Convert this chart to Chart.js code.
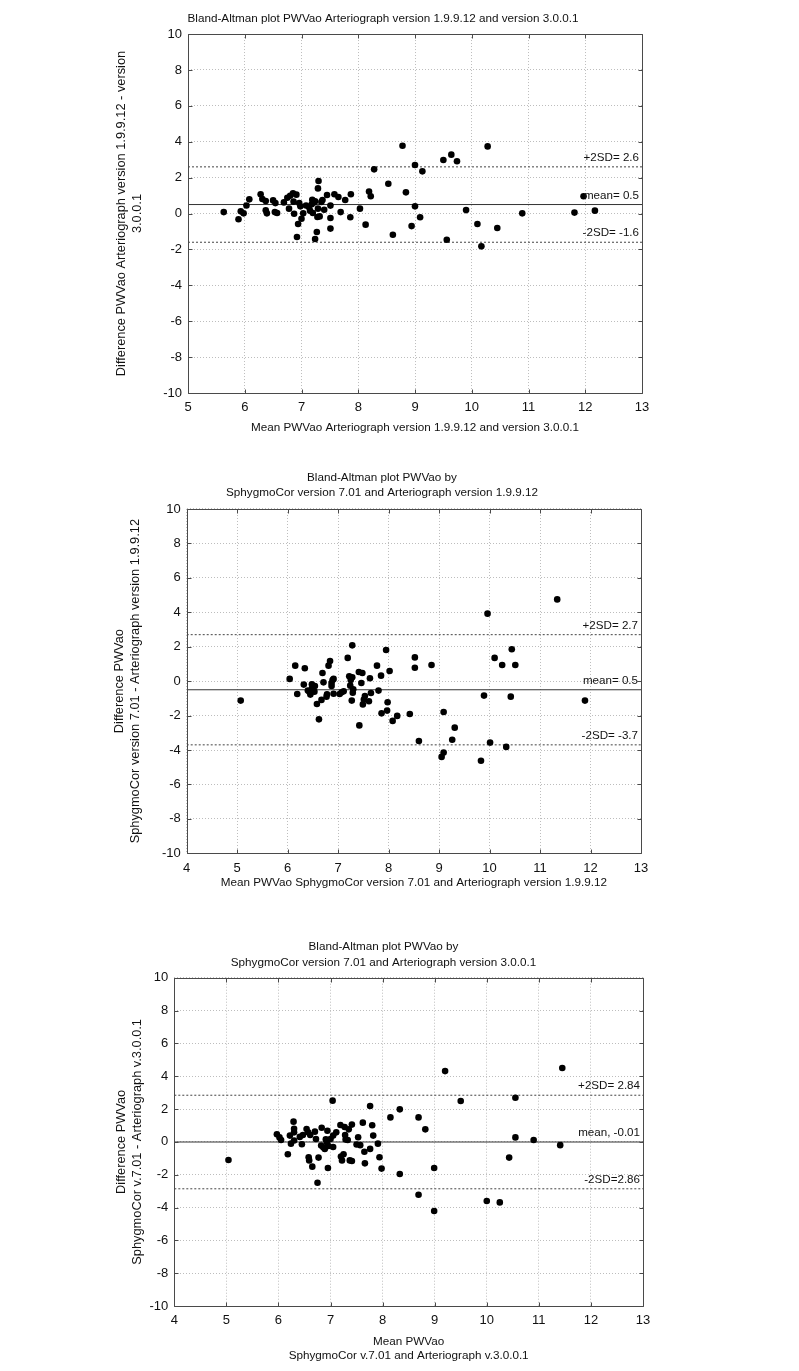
<!DOCTYPE html>
<html><head><meta charset="utf-8">
<script src="https://cdn.jsdelivr.net/npm/chart.js@4.4.1/dist/chart.umd.min.js"></script>
<style>
html,body{margin:0;padding:0;background:#fff;}
body{width:799px;height:1371px;position:relative;overflow:hidden;}
canvas{position:absolute;left:0;}
</style></head><body>
<canvas id="c1" width="766" height="445" style="top:0px"></canvas>
<canvas id="c2" width="764" height="455" style="top:445px"></canvas>
<canvas id="c3" width="767" height="471" style="top:900px"></canvas>
<script>
// ---------- Data ----------
const mean1 = [5.63,5.89,5.93,5.98,6.03,6.08,6.28,6.31,6.37,6.37,6.39,6.50,6.53,6.54,6.57,6.69,6.75,6.78,6.80,6.85,6.86,6.87,6.91,6.94,6.92,6.96,6.98,7.00,7.03,7.08,7.13,7.15,7.18,7.19,7.20,7.22,7.24,7.24,7.27,7.28,7.29,7.30,7.29,7.32,7.35,7.37,7.40,7.45,7.51,7.51,7.51,7.58,7.65,7.69,7.77,7.86,7.87,8.03,8.13,8.19,8.22,8.28,8.53,8.61,8.78,8.84,8.94,9.00,9.00,9.09,9.13,9.50,9.56,9.64,9.74,9.90,10.10,10.17,10.28,10.45,10.89,11.81,11.97,12.17];
const diff1 = [0.08,-0.32,0.12,0.01,0.45,0.79,1.07,0.81,0.70,0.18,0.01,0.73,0.08,0.58,0.03,0.62,0.88,0.27,0.99,1.12,0.66,-0.01,1.05,-0.58,-1.31,0.58,0.40,-0.29,0.01,0.45,0.36,0.16,0.51,0.77,0.03,0.62,-1.42,0.68,-1.03,-0.19,1.40,1.81,0.27,-0.16,0.64,0.75,0.21,1.03,0.44,-0.25,-0.84,1.07,0.92,0.08,0.75,-0.21,1.07,0.27,-0.62,1.22,0.96,2.46,1.66,-1.18,3.78,1.18,-0.70,2.70,0.40,-0.21,2.35,2.98,-1.46,3.28,2.91,0.19,-0.58,-1.83,3.74,-0.81,0.01,0.05,0.96,0.16];

const mean2 = [5.07,6.04,6.15,6.19,6.32,6.34,6.40,6.43,6.45,6.48,6.48,6.50,6.53,6.54,6.58,6.62,6.67,6.69,6.71,6.77,6.78,6.81,6.84,6.87,6.87,6.89,6.91,6.91,7.03,7.07,7.11,7.19,7.22,7.24,7.25,7.27,7.28,7.28,7.29,7.30,7.41,7.42,7.46,7.48,7.49,7.51,7.53,7.61,7.63,7.65,7.77,7.80,7.85,7.86,7.95,7.97,7.98,8.02,8.08,8.17,8.42,8.52,8.52,8.60,8.85,9.05,9.09,9.09,9.26,9.31,9.83,9.89,9.96,10.01,10.10,10.25,10.33,10.42,10.44,10.51,11.34,11.89];
const diff2 = [-1.13,0.13,0.90,-0.75,-0.20,0.75,-0.55,-0.61,-0.78,-0.42,-0.18,-0.32,-0.61,-0.28,-1.33,-2.22,-1.09,0.47,-0.07,-0.90,-0.76,0.90,1.17,-0.28,-0.11,0.07,-0.73,0.13,-0.75,-0.65,-0.59,1.35,0.28,-0.26,0.07,-1.13,2.08,0.22,-0.67,-0.47,0.53,-2.57,-0.11,0.47,-1.35,-1.07,-0.86,-1.17,0.17,-0.69,0.90,-0.55,0.32,-1.87,1.81,-1.71,-1.23,0.59,-2.31,-2.02,-1.91,1.38,0.78,-3.48,0.94,-4.40,-4.15,-1.79,-3.40,-2.70,-4.62,-0.84,3.92,-3.57,1.35,0.94,-3.82,-0.90,1.85,0.94,4.75,-1.13];

const mean3 = [5.04,5.97,6.02,6.05,6.18,6.22,6.24,6.29,6.30,6.30,6.30,6.41,6.45,6.47,6.54,6.57,6.58,6.59,6.61,6.65,6.70,6.72,6.75,6.77,6.83,6.82,6.86,6.89,6.91,6.93,6.94,6.95,6.96,7.00,7.04,7.05,7.05,7.11,7.19,7.20,7.22,7.25,7.27,7.28,7.29,7.33,7.35,7.37,7.41,7.41,7.50,7.53,7.57,7.62,7.65,7.66,7.76,7.76,7.80,7.82,7.91,7.94,7.98,8.15,8.33,8.33,8.69,8.69,8.82,8.99,8.99,9.20,9.50,10.00,10.25,10.43,10.55,10.55,10.90,11.41,11.45];
const diff3 = [-1.11,0.46,0.27,0.11,-0.76,0.38,-0.11,1.23,0.80,0.58,0.08,0.30,-0.15,0.42,0.78,0.58,-0.94,-1.13,0.42,-1.51,0.62,0.17,-2.49,-0.96,0.86,-0.23,-0.33,-0.44,0.15,-0.03,0.68,-1.59,-0.25,0.17,2.51,-0.31,0.38,0.58,1.03,-0.90,-1.13,-0.76,0.90,0.42,0.15,0.11,0.76,-1.13,1.05,-1.17,-0.16,0.28,-0.20,1.17,-0.60,-1.31,-0.43,2.18,1.01,0.38,-0.11,-0.94,-1.63,1.49,1.98,-1.96,1.49,-3.22,0.76,-1.59,-4.21,4.31,2.49,-3.60,-3.69,-0.96,2.69,0.27,0.11,-0.20,4.50];

// limit lines: [+2SD, mean, -2SD]
const limits1 = [2.6, 0.5, -1.6];
const limitLabels1 = ["+2SD= 2.6", "mean= 0.5", "-2SD= -1.6"];
const limits2 = [2.7, -0.5, -3.7];
const limitLabels2 = ["+2SD= 2.7", "mean= 0.5", "-2SD= -3.7"];
const limits3 = [2.84, -0.01, -2.86];
const limitLabels3 = ["+2SD= 2.84", "mean, -0.01", "-2SD=2.86"];

const xRange1 = [5, 13];
const xRange2 = [4, 13];
const xRange3 = [4, 13];
const yRange = [-10, 10];

const title1 = "Bland-Altman plot PWVao Arteriograph version 1.9.9.12 and version 3.0.0.1";
const title2 = ["Bland-Altman plot PWVao by", "SphygmoCor version 7.01 and Arteriograph version 1.9.9.12"];
const title3 = ["Bland-Altman plot PWVao by", "SphygmoCor version 7.01 and Arteriograph version 3.0.0.1"];
const xTitle1 = "Mean PWVao Arteriograph version 1.9.9.12 and version 3.0.0.1";
const xTitle2 = "Mean PWVao SphygmoCor version 7.01 and Arteriograph version 1.9.9.12";
const xTitle3 = ["Mean PWVao", "SphygmoCor v.7.01 and Arteriograph v.3.0.0.1"];
const yTitle1 = ["Difference PWVao Arteriograph version 1.9.9.12 - version", "3.0.0.1"];
const yTitle2 = ["Difference PWVao", "SphygmoCor version 7.01 - Arteriograph version 1.9.9.12"];
const yTitle3 = ["Difference PWVao", "SphygmoCor v.7.01 - Arteriograph v.3.0.0.1"];

// ---------- Rendering ----------
Chart.defaults.font.family = "'Liberation Sans', Arial, sans-serif";
Chart.defaults.color = '#111';

const framePlugin = {
  id: 'frame',
  afterDraw(chart) {
    const {ctx, chartArea: a, scales} = chart;
    ctx.save();
    ctx.strokeStyle = '#4a4a4a';
    ctx.lineWidth = 1;
    ctx.setLineDash([]);
    ctx.beginPath();
    const L = Math.round(a.left) + 0.5, R = Math.round(a.right) + 0.5;
    const T = Math.round(a.top) + 0.5, B = Math.round(a.bottom) + 0.5;
    ctx.rect(L, T, R - L, B - T);
    const tl = 4;
    scales.x.ticks.forEach(t => {
      const px = Math.round(scales.x.getPixelForValue(t.value)) + 0.5;
      ctx.moveTo(px, T); ctx.lineTo(px, T + tl);
      ctx.moveTo(px, B); ctx.lineTo(px, B - tl);
    });
    scales.y.ticks.forEach(t => {
      const py = Math.round(scales.y.getPixelForValue(t.value)) + 0.5;
      ctx.moveTo(L, py); ctx.lineTo(L + tl, py);
      ctx.moveTo(R, py); ctx.lineTo(R - tl, py);
    });
    ctx.stroke();
    // limit line labels
    const labels = chart.options.plugins.frame.labels;
    const vals = chart.options.plugins.frame.values;
    ctx.fillStyle = '#111';
    ctx.font = "11.6px 'Liberation Sans', Arial, sans-serif";
    ctx.textAlign = 'right';
    ctx.textBaseline = 'alphabetic';
    labels.forEach((txt, i) => {
      const py = scales.y.getPixelForValue(vals[i]);
      ctx.fillText(txt, a.right - 3, py - 6);
    });
    ctx.restore();
  }
};

function makeChart(id, g) {
  const pts = g.xs.map((x, i) => ({x: x, y: g.ys[i]}));
  const lineDs = g.limits.map((v, i) => ({
    type: 'line',
    data: [{x: g.xr[0], y: v}, {x: g.xr[1], y: v}],
    borderColor: i === 1 ? '#333' : '#444',
    borderWidth: 1,
    borderDash: i === 1 ? [] : [2, 2],
    pointRadius: 0,
    fill: false
  }));
  return new Chart(document.getElementById(id), {
    type: 'scatter',
    data: {
      datasets: [{
        data: pts,
        backgroundColor: '#000',
        borderColor: '#000',
        borderWidth: 0,
        pointRadius: 3.3,
        pointHoverRadius: 3.3
      }].concat(lineDs)
    },
    options: {
      responsive: false,
      animation: false,
      events: [],
      layout: {padding: 0},
      plugins: {
        legend: {display: false},
        tooltip: {enabled: false},
        title: {
          display: true,
          text: g.title,
          color: '#111',
          font: {size: 11.7, weight: 'normal', lineHeight: g.tLH},
          padding: {top: g.tPT, bottom: g.tPB}
        },
        frame: {labels: g.labels, values: g.limits}
      },
      scales: {
        x: {
          type: 'linear', position: 'bottom',
          min: g.xr[0], max: g.xr[1],
          ticks: {stepSize: 1, padding: 7, color: '#111', font: {size: 13}, maxRotation: 0},
          grid: {color: '#bdbdbd', drawTicks: false, lineWidth: 1},
          border: {display: false, dash: [1, 2]},
          title: {display: true, text: g.xTitle, color: '#111',
                  font: {size: 11.7, lineHeight: g.xLH}, padding: {top: 0, bottom: g.xPB}},
          afterFit(s) { s.height = g.xH; }
        },
        y: {
          type: 'linear', position: 'left',
          min: yRange[0], max: yRange[1],
          ticks: {stepSize: 2, padding: 6, color: '#111', font: {size: 13}},
          grid: {color: '#bdbdbd', drawTicks: false, lineWidth: 1},
          border: {display: false, dash: [1, 2]},
          title: {display: true, text: g.yTitle, color: '#111',
                  font: {size: 12.8, lineHeight: 1.25}, padding: {top: g.yPT, bottom: 0}},
          afterFit(s) { s.width = g.yW; }
        },
        y2: {
          type: 'linear', position: 'right', display: true,
          min: 0, max: 1,
          ticks: {display: false},
          grid: {display: false, drawTicks: false},
          border: {display: false},
          afterFit(s) { s.width = g.rW; }
        }
      }
    },
    plugins: [framePlugin]
  });
}

makeChart('c1', {
  xs: mean1, ys: diff1, xr: xRange1, limits: limits1, labels: limitLabels1,
  title: title1, tLH: 1.2, tPT: 12, tPB: 8,
  xTitle: xTitle1, xLH: 1.2, xPB: 10, xH: 52,
  yTitle: yTitle1, yPT: 113, yW: 188, rW: 124
});
makeChart('c2', {
  xs: mean2, ys: diff2, xr: xRange2, limits: limits2, labels: limitLabels2,
  title: title2, tLH: 1.282, tPT: 25.5, tPB: 8.5,
  xTitle: xTitle2, xLH: 1.2, xPB: 10, xH: 46.7,
  yTitle: yTitle2, yPT: 111, yW: 186.7, rW: 123
});
makeChart('c3', {
  xs: mean3, ys: diff3, xr: xRange3, limits: limits3, labels: limitLabels3,
  title: title3, tLH: 1.333, tPT: 38.9, tPB: 7.6,
  xTitle: xTitle3, xLH: 1.1966, xPB: 8.3, xH: 65,
  yTitle: yTitle3, yPT: 113, yW: 174.3, rW: 124
});
</script>
</body></html>
